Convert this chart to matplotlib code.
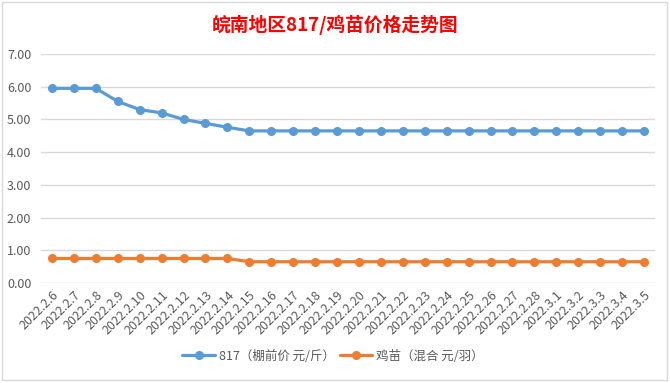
import matplotlib.pyplot as plt
from matplotlib.patches import Rectangle

plt.rcParams['font.family'] = ['Noto Sans CJK SC', 'DejaVu Sans']

# dates on the x axis
dates = ['2022.2.%d' % d for d in range(6, 29)] + ['2022.3.%d' % d for d in range(1, 6)]

# 817 chicks (shed price, yuan/jin)
price_817 = [5.95, 5.95, 5.95, 5.55, 5.30, 5.20, 5.00, 4.88, 4.76, 4.65,
             4.65, 4.65, 4.65, 4.65, 4.65, 4.65, 4.65, 4.65, 4.65, 4.65,
             4.65, 4.65, 4.65, 4.65, 4.65, 4.65, 4.65, 4.65]
# chick seedlings (mixed, yuan/each)
price_chick = [0.75, 0.75, 0.75, 0.75, 0.75, 0.75, 0.75, 0.75, 0.75, 0.65,
               0.65, 0.65, 0.65, 0.65, 0.65, 0.65, 0.65, 0.65, 0.65, 0.65,
               0.65, 0.65, 0.65, 0.65, 0.65, 0.65, 0.65, 0.65]

yticks = [0, 1, 2, 3, 4, 5, 6, 7]

W, H = 670, 383
fig = plt.figure(figsize=(W / 100, H / 100), dpi=100)
ax = fig.add_axes([41 / W, 1 - 283 / H, (655 - 41) / W, (283 - 54) / H])

x = list(range(len(dates)))
ax.plot(x, price_817, color='#5B9BD5', lw=2.3, marker='o', ms=5.5,
        label='817（棚前价 元/斤）', solid_capstyle='round')
ax.plot(x, price_chick, color='#ED7D31', lw=2.3, marker='o', ms=5.5,
        label='鸡苗（混合 元/羽）', solid_capstyle='round')

ax.set_xlim(-0.5, len(dates) - 0.5)
ax.set_ylim(0, 7)
ax.set_yticks(yticks)
ax.set_yticklabels(['%.2f' % v for v in yticks])
ax.set_xticks(x)
ax.set_xticklabels(dates, rotation=45, ha='right', rotation_mode='anchor')

ax.grid(axis='y', color='#D9D9D9', lw=1)
ax.set_axisbelow(True)
for s in ax.spines.values():
    s.set_visible(False)
ax.tick_params(axis='both', length=0, colors='#595959', labelsize=9)
ax.tick_params(axis='y', pad=7)
ax.tick_params(axis='x', pad=4)

fig.text(0.5, 1 - 25 / H, '皖南地区817/鸡苗价格走势图', color='#FF0000',
         fontsize=13.5, fontweight='bold', ha='center', va='center')

leg = fig.legend(loc='center', bbox_to_anchor=(333 / W, 1 - 356 / H), ncol=2,
                 frameon=False, fontsize=9, handlelength=2.6, columnspacing=0.4,
                 handletextpad=0.3)
for t in leg.get_texts():
    t.set_color('#595959')

# chart frame
fig.patches.append(Rectangle((2 / W, 1 - 380 / H), 665 / W, 378 / H,
                             transform=fig.transFigure, fill=False,
                             edgecolor='#D9D9D9', lw=1))

fig.savefig('out.png', dpi=100)
